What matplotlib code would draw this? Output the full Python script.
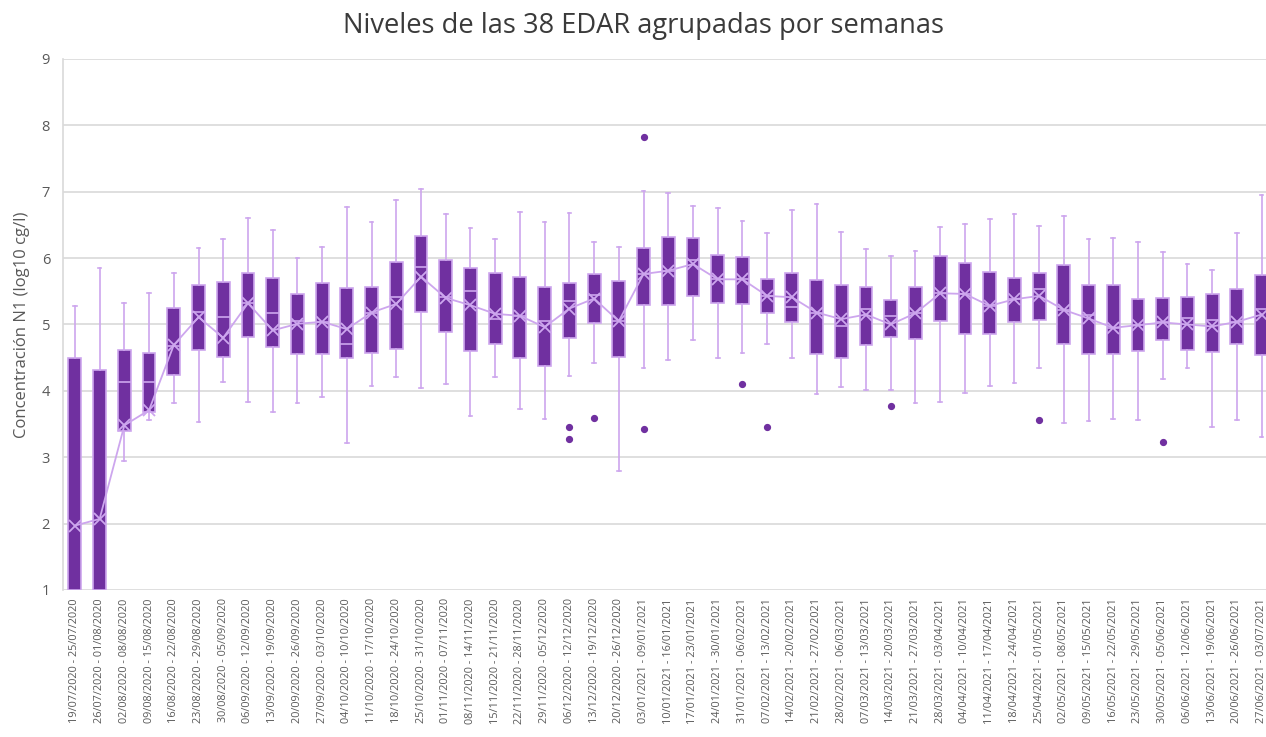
import matplotlib
matplotlib.use("Agg")
import matplotlib.pyplot as plt

plt.rcParams['font.family'] = ['Open Sans', 'DejaVu Sans']

# weekly labels (start - end)
weeks = [
    "19/07/2020 - 25/07/2020", "26/07/2020 - 01/08/2020", "02/08/2020 - 08/08/2020",
    "09/08/2020 - 15/08/2020", "16/08/2020 - 22/08/2020", "23/08/2020 - 29/08/2020",
    "30/08/2020 - 05/09/2020", "06/09/2020 - 12/09/2020", "13/09/2020 - 19/09/2020",
    "20/09/2020 - 26/09/2020", "27/09/2020 - 03/10/2020", "04/10/2020 - 10/10/2020",
    "11/10/2020 - 17/10/2020", "18/10/2020 - 24/10/2020", "25/10/2020 - 31/10/2020",
    "01/11/2020 - 07/11/2020", "08/11/2020 - 14/11/2020", "15/11/2020 - 21/11/2020",
    "22/11/2020 - 28/11/2020", "29/11/2020 - 05/12/2020", "06/12/2020 - 12/12/2020",
    "13/12/2020 - 19/12/2020", "20/12/2020 - 26/12/2020", "03/01/2021 - 09/01/2021",
    "10/01/2021 - 16/01/2021", "17/01/2021 - 23/01/2021", "24/01/2021 - 30/01/2021",
    "31/01/2021 - 06/02/2021", "07/02/2021 - 13/02/2021", "14/02/2021 - 20/02/2021",
    "21/02/2021 - 27/02/2021", "28/02/2021 - 06/03/2021", "07/03/2021 - 13/03/2021",
    "14/03/2021 - 20/03/2021", "21/03/2021 - 27/03/2021", "28/03/2021 - 03/04/2021",
    "04/04/2021 - 10/04/2021", "11/04/2021 - 17/04/2021", "18/04/2021 - 24/04/2021",
    "25/04/2021 - 01/05/2021", "02/05/2021 - 08/05/2021", "09/05/2021 - 15/05/2021",
    "16/05/2021 - 22/05/2021", "23/05/2021 - 29/05/2021", "30/05/2021 - 05/06/2021",
    "06/06/2021 - 12/06/2021", "13/06/2021 - 19/06/2021", "20/06/2021 - 26/06/2021",
    "27/06/2021 - 03/07/2021",
]

whis_hi = [5.28, 5.85, 5.32, 5.47, 5.77, 6.15, 6.29, 6.61, 6.42, 6.00,
           6.17, 6.77, 6.55, 6.87, 7.04, 6.67, 6.46, 6.29, 6.69, 6.54,
           6.68, 6.24, 6.16, 7.01, 6.98, 6.78, 6.75, 6.56, 6.38, 6.72,
           6.82, 6.39, 6.14, 6.03, 6.11, 6.47, 6.52, 6.59, 6.66, 6.49,
           6.64, 6.29, 6.30, 6.24, 6.09, 5.91, 5.82, 6.38, 6.95]
q3 = [4.49, 4.31, 4.61, 4.57, 5.25, 5.59, 5.64, 5.78, 5.70, 5.46,
      5.62, 5.55, 5.57, 5.94, 6.33, 5.97, 5.85, 5.78, 5.72, 5.56,
      5.62, 5.76, 5.65, 6.15, 6.32, 6.30, 6.04, 6.01, 5.69, 5.78,
      5.67, 5.60, 5.56, 5.37, 5.57, 6.03, 5.93, 5.79, 5.70, 5.78,
      5.89, 5.60, 5.59, 5.38, 5.40, 5.41, 5.46, 5.54, 5.75]
medians = [1.00, 1.00, 4.14, 4.14, 4.67, 5.19, 5.11, 5.32, 5.17, 5.05,
           5.04, 4.71, 5.18, 5.41, 5.86, 5.42, 5.50, 5.08, 5.13, 5.05,
           5.36, 5.44, 5.05, 5.76, 5.81, 5.97, 5.68, 5.68, 5.43, 5.27,
           5.18, 4.97, 5.24, 5.12, 5.17, 5.47, 5.46, 5.28, 5.38, 5.53,
           5.22, 5.15, 4.95, 4.99, 5.03, 5.09, 5.07, 5.04, 5.24]
q1 = [0.90, 0.90, 3.40, 3.68, 4.24, 4.62, 4.51, 4.81, 4.66, 4.56,
      4.55, 4.49, 4.57, 4.63, 5.19, 4.89, 4.60, 4.70, 4.49, 4.38,
      4.80, 5.02, 4.51, 5.30, 5.29, 5.43, 5.32, 5.31, 5.18, 5.03,
      4.56, 4.50, 4.69, 4.81, 4.78, 5.05, 4.85, 4.85, 5.03, 5.06,
      4.71, 4.56, 4.56, 4.60, 4.76, 4.61, 4.59, 4.71, 4.54]
whis_lo = [0.90, 0.90, 2.94, 3.56, 3.82, 3.53, 4.13, 3.83, 3.68, 3.81,
           3.91, 3.21, 4.08, 4.21, 4.05, 4.11, 3.62, 4.21, 3.72, 3.58,
           4.23, 4.42, 2.79, 4.34, 4.46, 4.76, 4.50, 4.57, 4.70, 4.49,
           3.95, 4.06, 4.01, 4.01, 3.82, 3.83, 3.97, 4.07, 4.12, 4.34,
           3.51, 3.55, 3.58, 3.56, 4.18, 4.34, 3.46, 3.56, 3.30]
means = [1.97, 2.07, 3.48, 3.71, 4.69, 5.11, 4.80, 5.32, 4.91, 5.01,
         5.04, 4.93, 5.18, 5.31, 5.72, 5.40, 5.29, 5.16, 5.13, 4.96,
         5.24, 5.39, 5.05, 5.76, 5.81, 5.91, 5.68, 5.68, 5.43, 5.41,
         5.18, 5.08, 5.15, 5.00, 5.17, 5.47, 5.46, 5.28, 5.38, 5.43,
         5.22, 5.09, 4.95, 4.99, 5.03, 5.00, 4.97, 5.04, 5.15]
outliers = [[], [], [], [], [], [], [], [], [], [],
            [], [], [], [], [], [], [], [], [], [],
            [3.45, 3.28], [3.59], [], [7.82, 3.42], [], [], [], [4.11], [3.45], [],
            [], [], [], [3.77], [], [], [], [], [], [3.56],
            [], [], [], [], [3.23], [], [], [], []]

purple = '#7030A0'
lilac = '#CDA6EE'

stats = []
for i in range(len(weeks)):
    stats.append(dict(med=medians[i], q1=q1[i], q3=q3[i], whislo=whis_lo[i],
                      whishi=whis_hi[i], mean=means[i], fliers=outliers[i],
                      label=weeks[i]))

fig = plt.figure(figsize=(12.66, 7.37), dpi=100)
ax = fig.add_axes([0.0494, 0.1995, 0.9569, 0.7205])

pos = list(range(1, len(weeks) + 1))
ax.bxp(stats, positions=pos, widths=0.52, patch_artist=True, showmeans=True,
       boxprops=dict(facecolor=purple, edgecolor=lilac, linewidth=1.2),
       medianprops=dict(color=lilac, linewidth=1.2),
       whiskerprops=dict(color=lilac, linewidth=1.2),
       capprops=dict(color=lilac, linewidth=1.2),
       capwidths=0.15,
       meanprops=dict(marker='x', markeredgecolor=lilac, markersize=9, markeredgewidth=1.3),
       flierprops=dict(marker='o', markerfacecolor=purple, markeredgecolor=purple, markersize=4.2),
       zorder=3)
ax.plot(pos, means, color=lilac, linewidth=1.3, zorder=4)

ax.set_ylim(1, 9)
ax.set_xlim(0.5, len(weeks) + 0.5)
ax.set_yticks(range(1, 10))
ax.yaxis.grid(True, color='#D9D9D9', linewidth=1.2, zorder=0)
ax.set_axisbelow(True)
for s in ['top', 'right', 'bottom']:
    ax.spines[s].set_visible(False)
ax.spines['left'].set_color('#D9D9D9')
ax.spines['left'].set_linewidth(1.2)

ax.tick_params(axis='y', length=0, pad=9, labelsize=10.5, labelcolor='#595959')
ax.tick_params(axis='x', length=0, pad=6, labelsize=7.8, labelcolor='#595959')
ax.set_xticks(pos)
ax.set_xticklabels(weeks, rotation=90)

ax.set_ylabel('Concentración N1 (log10 cg/l)', fontsize=12, color='#595959', labelpad=8)
fig.text(0.508, 0.965, 'Niveles de las 38 EDAR agrupadas por semanas',
         ha='center', va='center', fontsize=19.6, color='#3A3A3A')

fig.savefig('out.png', dpi=100)
